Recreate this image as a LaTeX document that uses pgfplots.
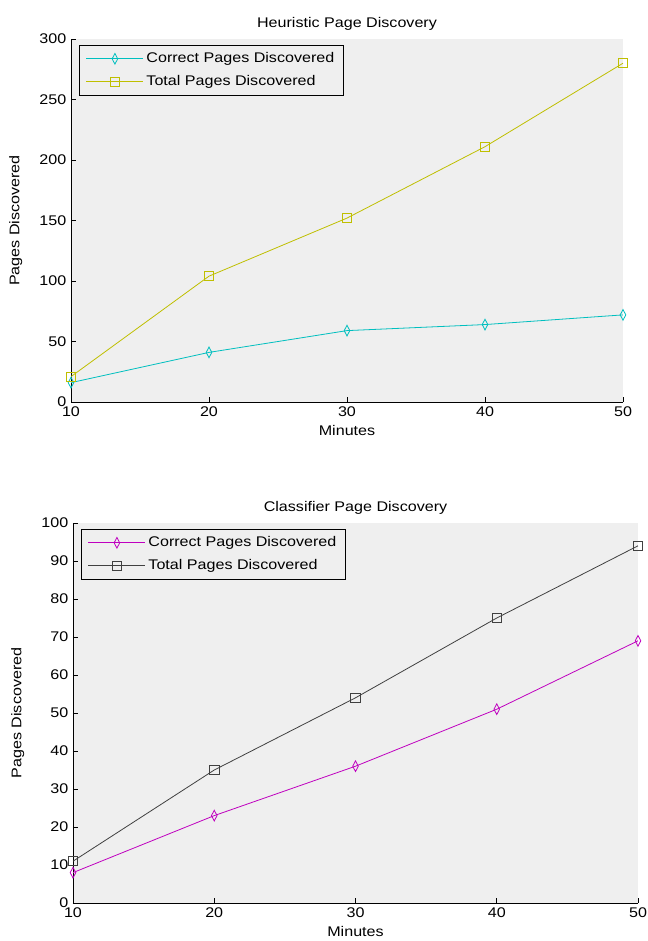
\documentclass[border=0pt]{standalone}
\usepackage{fontspec}
\setmainfont{Liberation Sans}[FakeStretch=1.15]
\usepackage{pgfplots}
\pgfplotsset{compat=1.18}
\definecolor{mcyan}{rgb}{0,0.75,0.75}
\definecolor{myellow}{rgb}{0.75,0.75,0}
\definecolor{mmagenta}{rgb}{0.75,0,0.75}
\definecolor{mdark}{rgb}{0.25,0.25,0.25}
\definecolor{bggray}{RGB}{239,239,239}
\newcommand{\mfont}{\fontsize{10.5}{12.5}\selectfont}
\pgfplotsset{mstyle/.style={
  scale only axis, axis lines=left, axis line style={-, black, line width=0.6pt},
  axis background/.style={fill=bggray},
  tick align=inside, major tick length=3.75pt, tick style={black, line width=0.6pt},
  xmin=10, xmax=50, xtick={10,20,30,40,50}, ymin=0,
  font=\mfont,
  tick label style={font=\mfont},
  /pgf/number format/assume math mode=true,
  title style={font=\mfont, yshift=-3pt},
  legend style={at={(0,1)}, anchor=north west, xshift=6pt, yshift=-4.5pt, fill=bggray, draw=black, line width=0.6pt, font=\mfont, row sep=4pt, inner xsep=5pt, inner ysep=3.5pt},
  legend cell align=left,
  xlabel=Minutes, ylabel=Pages Discovered,
  ylabel shift=6pt,
  every axis plot/.append style={line width=0.6pt},
  legend image code/.code={\draw[line width=0.6pt, mark repeat=2,mark phase=2] plot coordinates {(0cm,0cm) (0.75cm,0cm) (1.5cm,0cm)};},
}}
\begin{document}
\begin{tikzpicture}
\useasboundingbox (0,0) rectangle (486pt,-705.75pt);
\begin{axis}[mstyle, at={(53.25pt,-301.5pt)}, anchor=south west,
  width=414pt, height=272.25pt, ymax=300, ytick={0,50,...,300},
  title={Heuristic Page Discovery}]
\addplot[color=mcyan, mark=diamond, mark size=4pt, mark options={xscale=0.7, solid}] coordinates {(10,16) (20,41) (30,59) (40,64) (50,72)};
\addlegendentry{Correct Pages Discovered}
\addplot[color=myellow, mark=square, mark size=3.5pt, mark options={solid}] coordinates {(10,21) (20,104) (30,152) (40,211) (50,280)};
\addlegendentry{Total Pages Discovered}
\end{axis}
\begin{axis}[mstyle, at={(54.75pt,-677.25pt)}, anchor=south west,
  width=423.75pt, height=285pt, ymax=100, ytick={0,10,...,100},
  title={Classifier Page Discovery}]
\addplot[color=mmagenta, mark=diamond, mark size=4pt, mark options={xscale=0.7, solid}] coordinates {(10,8) (20,23) (30,36) (40,51) (50,69)};
\addlegendentry{Correct Pages Discovered}
\addplot[color=mdark, mark=square, mark size=3.5pt, mark options={solid}] coordinates {(10,11) (20,35) (30,54) (40,75) (50,94)};
\addlegendentry{Total Pages Discovered}
\end{axis}
\end{tikzpicture}
\end{document}
